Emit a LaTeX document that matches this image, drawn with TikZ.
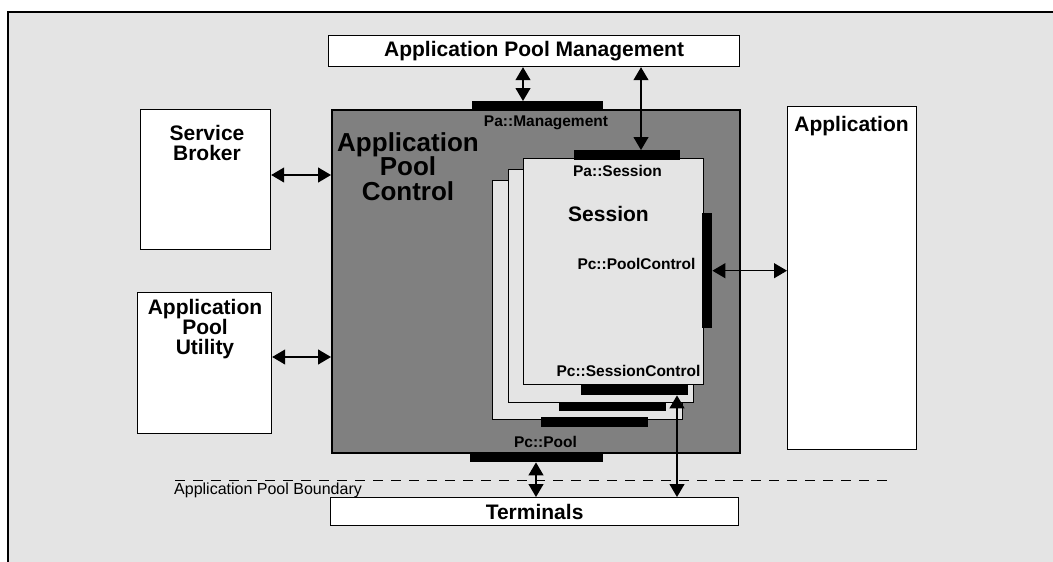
\documentclass[tikz,border=0pt]{standalone}
\usepackage{fontspec}
\setmainfont{Liberation Sans}
\usetikzlibrary{arrows.meta}

\definecolor{panel}{HTML}{E4E4E4}
\definecolor{poolgray}{HTML}{808080}

\newcommand*{\bigfont}{\fontsize{26}{24.5}\selectfont\bfseries}
\newcommand*{\boxfont}{\fontsize{21}{19.5}\selectfont\bfseries}
\newcommand*{\portfont}{\fontsize{15.5}{18}\selectfont\bfseries}
\newcommand*{\plainfont}{\fontsize{16}{19}\selectfont}

\begin{document}
\begin{tikzpicture}
[
	x=1pt,y=-1pt,
	box/.style={draw,fill=white,line width=1.2pt,inner sep=0pt,anchor=north west},
	pagebox/.style={draw,fill=panel,line width=1.2pt,inner sep=0pt,anchor=north west},
	port/.style={fill=black,inner sep=0pt,anchor=north west},
	title/.style={font=\boxfont,align=center,inner sep=0pt},
	portname/.style={font=\portfont,inner sep=0pt,anchor=base},
	link/.style={<->,line width=1.2pt,>={Triangle[length=13pt,width=15pt]}}
]

	\useasboundingbox (0,0) rectangle (1053,562);

	% frame
	\fill[panel] (8,12) rectangle (1053,562);
	\draw[line width=1.5pt] (8,562) -- (8,12) -- (1053,12);

	% outer boxes
	\node[box,minimum width=411pt,minimum height=31pt,font=\boxfont] (mgmt) at (328,35) {Application Pool Management};
	\node[box,fill=poolgray,line width=1.5pt,minimum width=408pt,minimum height=343pt] (ctrl) at (331,109) {};
	\node[box,minimum width=130pt,minimum height=140pt] (broker) at (140,109) {};
	\node[box,minimum width=134pt,minimum height=141pt] (utility) at (137,292) {};
	\node[box,minimum width=129pt,minimum height=343pt] (app) at (787,106) {};
	\node[box,minimum width=408pt,minimum height=28pt,font=\boxfont] (term) at (330,497) {Terminals};

	% session pages
	\node[pagebox,minimum width=190pt,minimum height=239pt] (page3) at (492,180) {};
	\node[port,minimum width=107pt,minimum height=10pt] (bar3) at (541,417) {};
	\node[pagebox,minimum width=185pt,minimum height=233pt] (page2) at (508,169) {};
	\node[port,minimum width=107pt,minimum height=9pt] (bar2) at (559,402) {};
	\node[pagebox,minimum width=180pt,minimum height=226pt] (page1) at (523,158) {};
	\node[port,minimum width=107pt,minimum height=10pt] (sessctl) at (581,385) {};

	% ports
	\node[port,minimum width=131pt,minimum height=10pt] (pamgmt) at (472,101) {};
	\node[port,minimum width=106pt,minimum height=10pt] (pasess) at (574,150) {};
	\node[port,minimum width=10pt,minimum height=115pt] (pcctl) at (702,213) {};
	\node[port,minimum width=133pt,minimum height=10pt] (pcpool) at (470,452) {};

	% titles
	\node[title,font=\bigfont,anchor=north] (ctrltxt) at (408,132) {Application\\Pool\\Control};
	\node[title,anchor=north] (brokertxt) at (207,125.5) {Service\\Broker};
	\node[title,anchor=north] (utiltxt) at (205,299) {Application\\Pool\\Utility};
	\node[title,anchor=base] (apptxt) at (851.5,131) {Application};
	\node[title,anchor=base] (sesstxt) at (608.5,221) {Session};

	\node[portname] (pamgmttxt) at (546,126) {Pa::Management};
	\node[portname] (pasesstxt) at (617.5,176) {Pa::Session};
	\node[portname] (pcctltxt) at (636.5,269) {Pc::PoolControl};
	\node[portname] (sessctltxt) at (628.5,376) {Pc::SessionControl};
	\node[portname] (pcpooltxt) at (545.5,447) {Pc::Pool};

	% boundary
	\coordinate (bndl) at (175,480);
	\coordinate (bndr) at (893,480);
	\draw[dash pattern=on 10pt off 8pt,line width=1pt] (bndl) -- (bndr);
	\node[font=\plainfont,inner sep=0pt,anchor=base west] (bndtxt) at (174,494) {Application Pool Boundary};

	% links
	\draw[link] (broker.east |- 0,175) -- (ctrl.west |- 0,175);
	\draw[link] (utility.east |- 0,357) -- (ctrl.west |- 0,357);
	\draw[link] (pcctl.east) -- (app.west |- pcctl.east);
	\draw[link] (mgmt.south -| 523,0) -- (pamgmt.north -| 523,0);
	\draw[link] (mgmt.south -| 641,0) -- (pasess.north -| 641,0);
	\draw[link] (pcpool.south -| 536,0) -- (term.north -| 536,0);
	\draw[link] (sessctl.south -| 677,0) -- (term.north -| 677,0);

\end{tikzpicture}
\end{document}
